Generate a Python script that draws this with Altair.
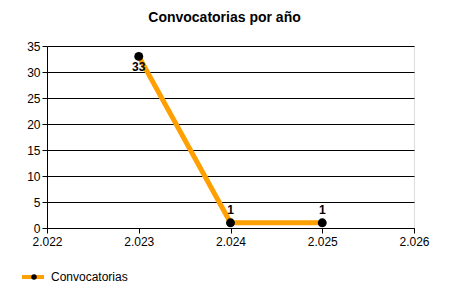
import altair as alt
import pandas as pd

years = [2023, 2024, 2025]
values = [33, 1, 1]
series = ["Convocatorias"] * 3

df = pd.DataFrame({"year": years, "value": values, "serie": series})

FONT = "Liberation Sans"
ORANGE = "#FFA000"

x = alt.X("year:Q",
          scale=alt.Scale(domain=[2022, 2026], nice=False, zero=False),
          axis=alt.Axis(values=[2022, 2023, 2024, 2025, 2026], title=None, grid=False,
                        labelExpr="replace(format(datum.value, ','), ',', '.')",
                        domainColor="black", tickColor="black", tickSize=5,
                        labelColor="black", labelFont=FONT, labelFontSize=12,
                        labelPadding=3, labelFlush=False))
y = alt.Y("value:Q",
          scale=alt.Scale(domain=[0, 35], nice=False),
          axis=alt.Axis(values=[0, 5, 10, 15, 20, 25, 30, 35], title=None, grid=True,
                        gridColor="black", gridOpacity=1, gridWidth=1,
                        domainColor="black", tickColor="black", tickSize=5,
                        labelColor="black", labelFont=FONT, labelFontSize=12,
                        labelPadding=2))

base = alt.Chart(df)

line = base.mark_line(strokeWidth=5).encode(
    x=x, y=y,
    color=alt.Color("serie:N", scale=alt.Scale(range=[ORANGE]),
                    legend=alt.Legend(title=None, orient="none", legendX=-27, legendY=218,
                                      symbolType="stroke", symbolSize=484,
                                      symbolStrokeWidth=4, labelFont=FONT,
                                      labelFontSize=12, labelColor="black",
                                      labelOffset=5))
)

points = base.mark_point(filled=True, size=80, opacity=1).encode(
    x=x, y=y,
    fill=alt.Fill("serie:N", scale=alt.Scale(range=["black"]),
                  legend=alt.Legend(title=None, orient="none", legendX=-19, legendY=225,
                                    symbolType="circle", symbolSize=30,
                                    symbolStrokeWidth=0, labelExpr="''",
                                    labelFont=FONT, labelFontSize=12))
)

labels_below = base.transform_filter("datum.value > 10").mark_text(
    dy=11, fontWeight="bold", font=FONT, fontSize=12, color="black"
).encode(x=x, y=y, text="value:Q")

labels_above = base.transform_filter("datum.value <= 10").mark_text(
    dy=-13, fontWeight="bold", font=FONT, fontSize=12, color="black"
).encode(x=x, y=y, text="value:Q")

chart = alt.layer(line, points, labels_below, labels_above).resolve_scale(
    color="independent", fill="independent"
).properties(
    width=367, height=182,
    title=alt.TitleParams("Convocatorias por año", font=FONT, fontSize=14,
                          fontWeight="bold", color="black", anchor="middle",
                          dx=-6, offset=15),
    autosize=alt.AutoSizeParams(type="none"),
    padding={"left": 47, "top": 46, "right": 36, "bottom": 72},
).configure_view(stroke=None).configure(background="white")

chart.save("out.html", embed_options={"renderer": "svg", "actions": False})
